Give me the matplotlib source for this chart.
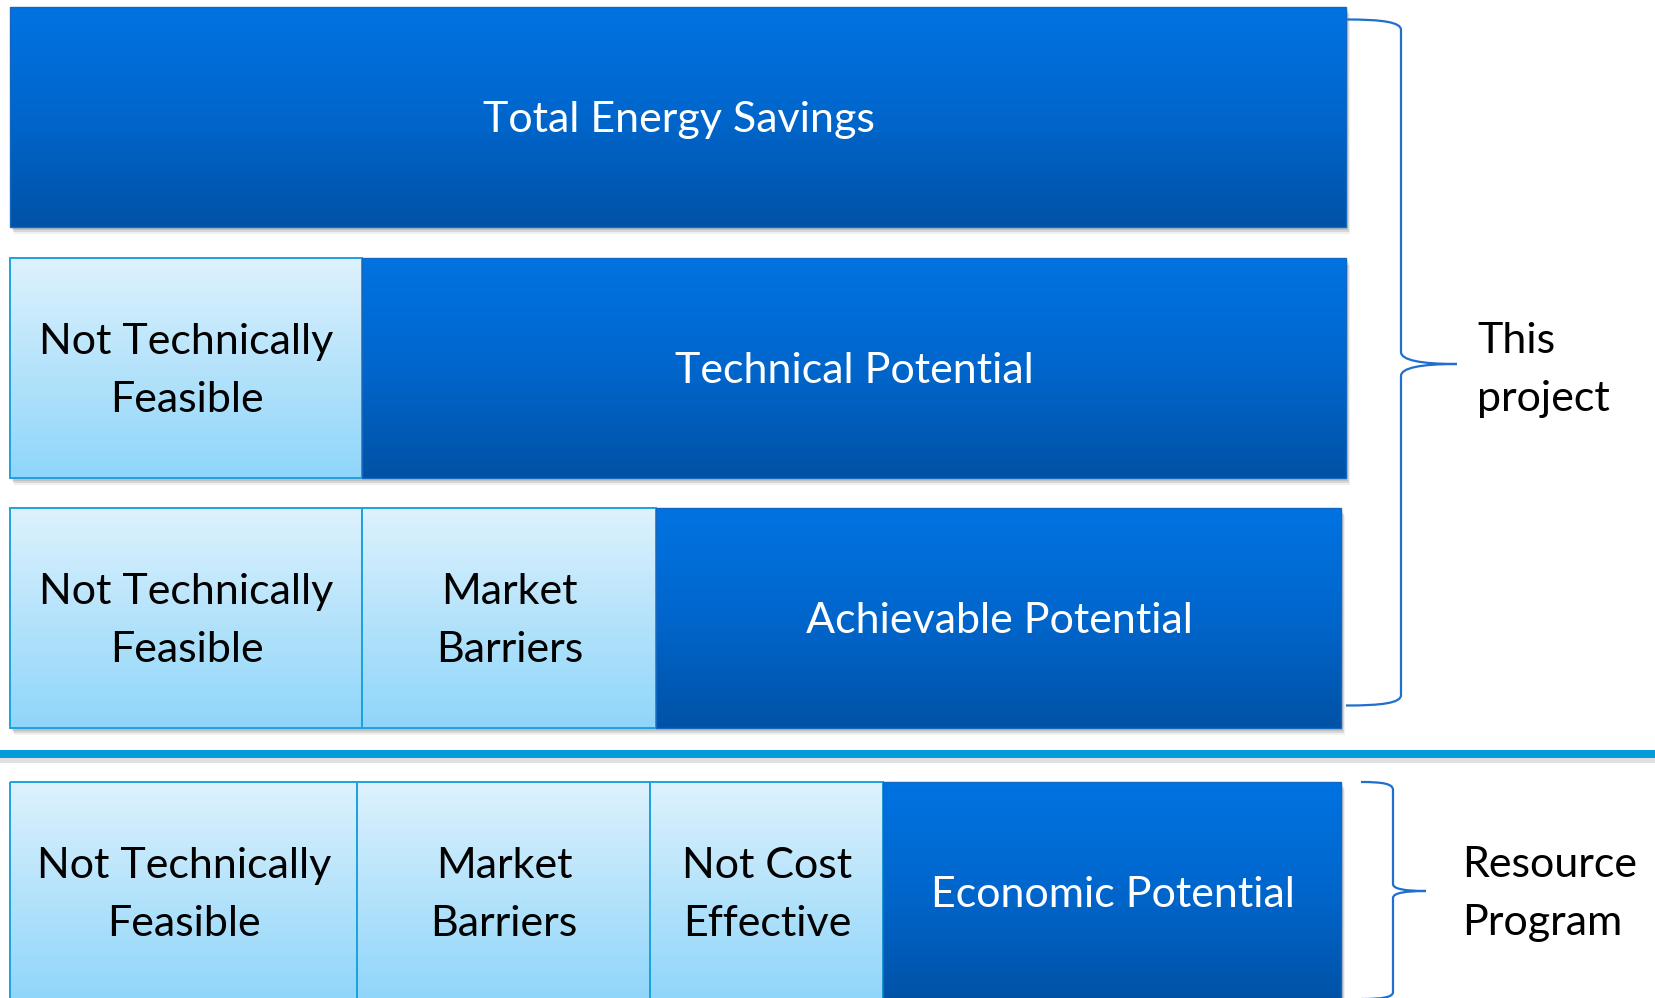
import matplotlib
matplotlib.use("Agg")
import matplotlib.pyplot as plt
import numpy as np
from matplotlib.patches import Rectangle, PathPatch
from matplotlib.path import Path
from matplotlib.colors import LinearSegmentedColormap

# diagram rows, top to bottom (segment widths in px)
row1_labels = ["Total Energy Savings"]
row1_widths = [1336]
row1_kinds = ["dark"]

row2_labels = ["Not Technically\nFeasible", "Technical Potential"]
row2_widths = [352, 984]
row2_kinds = ["light", "dark"]

row3_labels = ["Not Technically\nFeasible", "Market\nBarriers", "Achievable Potential"]
row3_widths = [352, 294, 685]
row3_kinds = ["light", "light", "dark"]

row4_labels = ["Not Technically\nFeasible", "Market\nBarriers", "Not Cost\nEffective", "Economic Potential"]
row4_widths = [347, 293, 233, 458]
row4_kinds = ["light", "light", "light", "dark"]

brace_labels = ["This\nproject", "Resource\nProgram"]

FONT = "Lato"
FS = 31
LS = 1.62

dark_cmap = LinearSegmentedColormap.from_list("dark", ["#0073e2", "#0066cc", "#0052a6"])
light_cmap = LinearSegmentedColormap.from_list("light", ["#def2fd", "#b5e3fb", "#8fd6fa"])

fig = plt.figure(figsize=(16.56, 9.98), dpi=100)
ax = fig.add_axes([0, 0, 1, 1])
ax.axis('off')

grad = np.linspace(0, 1, 256).reshape(-1, 1)


def draw_row(labels, widths, kinds, top, height=220, left=10.5):
    x = left
    total = sum(widths)
    # drop shadow under the whole row
    ax.add_patch(Rectangle((left + 2, top + 3), total, height, color='black', alpha=0.10, lw=0, zorder=1))
    ax.add_patch(Rectangle((left + 3, top + 5), total, height, color='black', alpha=0.10, lw=0, zorder=1))
    ax.add_patch(Rectangle((left + 4, top + 7), total, height, color='black', alpha=0.06, lw=0, zorder=1))
    for lab, w, k in zip(labels, widths, kinds):
        cm = dark_cmap if k == "dark" else light_cmap
        ax.imshow(grad, extent=(x, x + w, top + height, top), cmap=cm, aspect='auto',
                  interpolation='bicubic', zorder=2)
        if k == "dark":
            ax.add_patch(Rectangle((x, top), w, height, fill=False, ec='#1468c0', lw=1.0, zorder=3))
            col = 'white'
        else:
            ax.add_patch(Rectangle((x, top), w, height, fill=False, ec='#1ea2de', lw=1.4, zorder=3))
            col = 'black'
        ax.text(x + w / 2, top + height / 2 + 3, lab, ha='center', va='center', color=col,
                fontsize=FS, family=FONT, linespacing=LS, zorder=4)
        x += w


draw_row(row1_labels, row1_widths, row1_kinds, 6.5)
draw_row(row2_labels, row2_widths, row2_kinds, 258)
draw_row(row3_labels, row3_widths, row3_kinds, 508)
draw_row(row4_labels, row4_widths, row4_kinds, 782)

# separator line
ax.add_patch(Rectangle((0, 758), 1656, 5, color='black', alpha=0.12, lw=0, zorder=1))
ax.add_patch(Rectangle((0, 750), 1656, 8, color='#039bd8', lw=0, zorder=2))

# braces
bc = '#1f6fcf'
verts1 = [(1346, 19.5), (1382, 19.5), (1401, 22), (1401, 30),
          (1401, 352),
          (1401, 360), (1420, 364), (1457, 364),
          (1420, 364), (1401, 368), (1401, 376),
          (1401, 695),
          (1401, 703), (1382, 705.5), (1346, 705.5)]
codes1 = [Path.MOVETO, Path.CURVE4, Path.CURVE4, Path.CURVE4, Path.LINETO,
          Path.CURVE4, Path.CURVE4, Path.CURVE4, Path.CURVE4, Path.CURVE4, Path.CURVE4,
          Path.LINETO, Path.CURVE4, Path.CURVE4, Path.CURVE4]
ax.add_patch(PathPatch(Path(verts1, codes1), fill=False, ec=bc, lw=1.6, zorder=3))

verts2 = [(1361, 782), (1384, 782), (1393, 784), (1393, 790),
          (1393, 884),
          (1393, 889), (1405, 891), (1426, 891),
          (1405, 891), (1393, 893), (1393, 898),
          (1393, 992),
          (1393, 997), (1384, 999), (1361, 999)]
ax.add_patch(PathPatch(Path(verts2, codes1), fill=False, ec=bc, lw=1.6, zorder=3))

ax.text(1477, 370, brace_labels[0], ha='left', va='center', fontsize=FS, family=FONT,
        linespacing=LS, color='black')
ax.text(1462, 894, brace_labels[1], ha='left', va='center', fontsize=FS, family=FONT,
        linespacing=LS, color='black')

ax.set_xlim(0, 1656)
ax.set_ylim(998, 0)
fig.savefig("out.png", dpi=100, facecolor='white')
